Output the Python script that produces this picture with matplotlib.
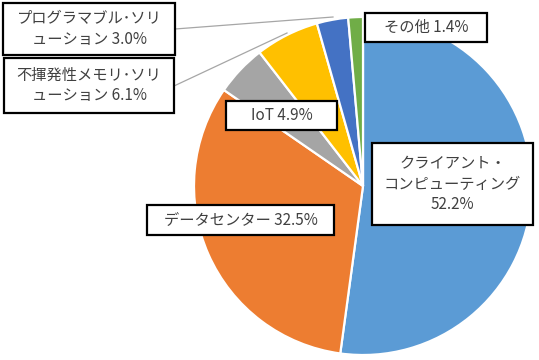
import matplotlib
matplotlib.use("Agg")
import matplotlib.pyplot as plt
from matplotlib.patches import Rectangle

plt.rcParams['font.family'] = ['Noto Sans CJK JP', 'DejaVu Sans']

# --- DATA ---
segments = ["クライアント・\nコンピューティング", "データセンター", "IoT",
            "不揮発性メモリ･ソリ\nューション", "プログラマブル･ソリ\nューション", "その他"]
shares = [52.2, 32.5, 4.9, 6.1, 3.0, 1.4]
colors = ["#5B9BD5", "#ED7D31", "#A5A5A5", "#FFC000", "#4472C4", "#70AD47"]

W, H = 539, 360
TEXT_COL = "#404040"

fig = plt.figure(figsize=(W / 100, H / 100), dpi=100)
ax = fig.add_axes([0, 0, 1, 1])


def Y(y):
    # image-style y (top = 0) to axes data y
    return H - y


ax.pie(shares, colors=colors, startangle=90, counterclock=False,
       center=(363, Y(186)), radius=169,
       wedgeprops=dict(edgecolor='white', linewidth=1.6))
ax.set_xlim(0, W)
ax.set_ylim(0, H)
ax.set_aspect('equal')
ax.axis('off')

# label boxes: (x0, y0, x1, y1) in image pixels, plus leader end point
boxes = [
    (372, 143, 533, 225, None),
    (147, 205, 334, 235, None),
    (226, 101, 337, 130, None),
    (4, 58, 174, 113, ((174, 86), (287, 33))),
    (3, 3, 175, 55, ((175, 29), (333, 17))),
    (365, 13, 487, 42, None),
]

for name, val, (x0, y0, x1, y1, leader) in zip(segments, shares, boxes):
    if leader is not None:
        (lx0, ly0), (lx1, ly1) = leader
        ax.plot([lx0, lx1], [Y(ly0), Y(ly1)], color="#A6A6A6", lw=0.9,
                zorder=3)
    ax.add_patch(Rectangle((x0, Y(y1)), x1 - x0, y1 - y0, facecolor='white',
                           edgecolor='black', lw=1.6, zorder=4))
    if name.startswith("クライアント"):
        label = f"{name}\n{val:.1f}%"
    else:
        label = f"{name} {val:.1f}%"
    ax.text((x0 + x1) / 2, Y((y0 + y1) / 2), label, ha='center',
            va='center', ma='center', fontsize=11, color=TEXT_COL,
            linespacing=1.25, zorder=5)

fig.savefig("out.png", dpi=100)
